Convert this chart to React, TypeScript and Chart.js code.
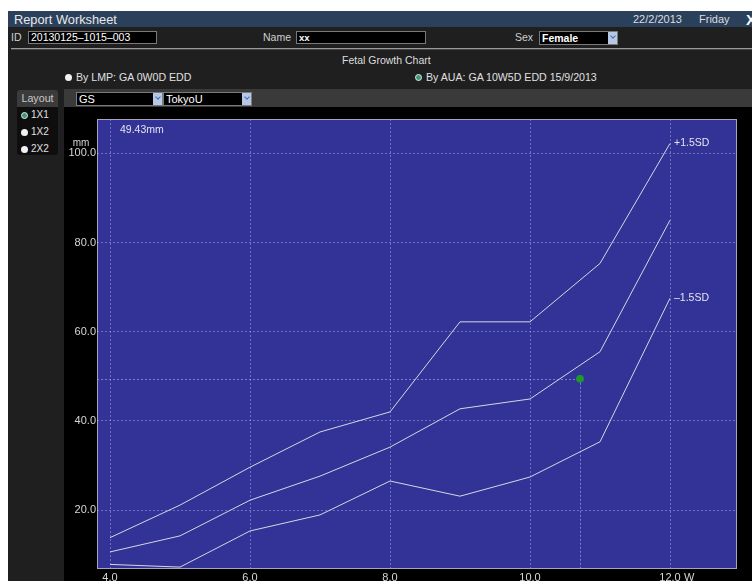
import React, { useEffect, useRef } from "react";
import { Chart, registerables } from "chart.js";

Chart.register(...registerables);

// ---- data ----
const weeks = [4, 5, 6, 7, 8, 9, 10, 11, 12];
const plusSD = [13.8, 21.1, 29.6, 37.5, 42.0, 62.2, 62.2, 75.3, 102.2];
const meanGS = [10.6, 14.2, 22.2, 27.6, 34.1, 42.7, 44.9, 55.5, 85.0];
const minusSD = [7.8, 7.2, 15.3, 18.9, 26.5, 23.1, 27.4, 35.3, 67.5];
const measuredGA = [10 + 5 / 7]; // 10W5D
const measuredGS = [49.43];
const xTickValues = [4, 6, 8, 10, 12];
const yTickValues = [20, 40, 60, 80, 100];
const xBounds = [3.814, 12.957];
const yBounds = [6.77, 107.69];
const seriesLabels = ["+1.5SD", "Mean", "\u20131.5SD"];

const FONT = "'Liberation Sans', Arial, Helvetica, sans-serif";

const toPts = (ys: number[]) => ys.map((y, i) => ({ x: weeks[i], y }));

const decorPlugin = {
  id: "decor",
  beforeDraw(chart: any) {
    const { ctx, chartArea: a } = chart;
    ctx.save();
    ctx.fillStyle = "#000";
    ctx.fillRect(0, 0, chart.width, chart.height);
    ctx.fillStyle = "#333397";
    ctx.fillRect(a.left, a.top, a.right - a.left, a.bottom - a.top);
    ctx.restore();
  },
  beforeDatasetsDraw(chart: any) {
    const { ctx, chartArea: a, scales } = chart;
    const px = scales.x.getPixelForValue(measuredGA[0]);
    const py = scales.y.getPixelForValue(measuredGS[0]);
    ctx.save();
    ctx.strokeStyle = "rgba(150,150,225,0.75)";
    ctx.lineWidth = 1;
    ctx.setLineDash([2, 2]);
    ctx.beginPath();
    ctx.moveTo(Math.round(px) + 0.5, py);
    ctx.lineTo(Math.round(px) + 0.5, a.bottom);
    ctx.moveTo(a.left, Math.round(py) + 0.5);
    ctx.lineTo(px, Math.round(py) + 0.5);
    ctx.stroke();
    ctx.restore();
  },
  afterDraw(chart: any) {
    const { ctx, chartArea: a, scales } = chart;
    ctx.save();
    ctx.strokeStyle = "#a4a4bc";
    ctx.lineWidth = 1;
    ctx.strokeRect(a.left + 0.5, a.top + 0.5, a.right - a.left - 1, a.bottom - a.top - 1);
    ctx.fillStyle = "#e4e4ee";
    ctx.textBaseline = "middle";
    ctx.textAlign = "left";
    ctx.font = `10.5px ${FONT}`;
    const xEnd = scales.x.getPixelForValue(weeks[weeks.length - 1]);
    ctx.fillText(seriesLabels[0], xEnd + 4, scales.y.getPixelForValue(plusSD[plusSD.length - 1]));
    ctx.fillText(seriesLabels[2], xEnd + 4, scales.y.getPixelForValue(minusSD[minusSD.length - 1]));
    ctx.font = `10.5px ${FONT}`;
    ctx.fillText(measuredGS[0].toFixed(2) + "mm", a.left + 23, a.top + 11);
    // axis unit labels
    ctx.fillStyle = "#d4d4d4";
    ctx.font = `10px ${FONT}`;
    ctx.textAlign = "center";
    ctx.fillText("mm", a.left - 16, scales.y.getPixelForValue(yTickValues[yTickValues.length - 1]) - 10);
    ctx.font = `11px ${FONT}`;
    ctx.textAlign = "left";
    ctx.textBaseline = "top";
    ctx.fillText("W", xEnd + 14, a.bottom + 3);
    ctx.restore();
  },
};

function ChartCanvas() {
  const ref = useRef<HTMLCanvasElement | null>(null);
  useEffect(() => {
    if (!ref.current) return;
    const lineStyle = {
      borderColor: "#d6d6e4",
      borderWidth: 1,
      pointRadius: 0,
      tension: 0,
      fill: false,
    };
    const chart = new Chart(ref.current, {
      type: "line",
      data: {
        datasets: [
          { label: seriesLabels[0], data: toPts(plusSD), ...lineStyle },
          { label: seriesLabels[1], data: toPts(meanGS), ...lineStyle },
          { label: seriesLabels[2], data: toPts(minusSD), ...lineStyle },
          {
            type: "scatter",
            label: "GS",
            data: [{ x: measuredGA[0], y: measuredGS[0] }],
            pointRadius: 3.5,
            pointBackgroundColor: "#1f9a2a",
            pointBorderColor: "#1f9a2a",
            showLine: false,
          } as any,
        ],
      },
      options: {
        animation: false,
        responsive: false,
        maintainAspectRatio: false,
        layout: { padding: { left: 0, top: 12, right: 15, bottom: 0 } },
        plugins: { legend: { display: false }, tooltip: { enabled: false } },
        scales: {
          x: {
            type: "linear",
            position: "bottom",
            min: xBounds[0],
            max: xBounds[1],
            afterBuildTicks: (s: any) => {
              s.ticks = xTickValues.map((v) => ({ value: v }));
            },
            afterFit: (s: any) => {
              s.height = 12;
            },
            ticks: {
              color: "#d6d6d6",
              font: { size: 11, family: FONT },
              padding: 2,
              maxRotation: 0,
              autoSkip: false,
              callback: (v: any) => Number(v).toFixed(1),
            },
            grid: { color: "rgba(160,160,230,0.55)", drawTicks: false, lineWidth: 1 },
            border: { display: false, dash: [2, 2] },
          },
          y: {
            type: "linear",
            position: "left",
            min: yBounds[0],
            max: yBounds[1],
            afterBuildTicks: (s: any) => {
              s.ticks = yTickValues.map((v) => ({ value: v }));
            },
            afterFit: (s: any) => {
              s.width = 33;
            },
            ticks: {
              color: "#d6d6d6",
              font: { size: 11, family: FONT },
              padding: 1,
              autoSkip: false,
              callback: (v: any) => Number(v).toFixed(1),
            },
            grid: { color: "rgba(160,160,230,0.55)", drawTicks: false, lineWidth: 1 },
            border: { display: false, dash: [2, 2] },
          },
        },
      },
      plugins: [decorPlugin],
    } as any);
    return () => chart.destroy();
  }, []);
  return (
    <canvas
      ref={ref}
      width={688}
      height={474}
      style={{ position: "absolute", left: 64, top: 107, width: 688, height: 474, display: "block" }}
    />
  );
}

const abs = (left: number, top: number, extra: any = {}) => ({ position: "absolute" as const, left, top, ...extra });

function T({ x, y, h, size, color = "#dcdcdc", bold = false, children }: any) {
  return (
    <div
      style={abs(x, y, {
        height: h,
        lineHeight: `${h}px`,
        fontSize: size,
        color,
        fontWeight: bold ? "bold" : "normal",
        whiteSpace: "nowrap",
      })}
    >
      {children}
    </div>
  );
}

function Box({ x, y, w, h, text, size = 10.5, bold = false, arrow = false }: any) {
  return (
    <div
      style={abs(x, y, {
        width: w,
        height: h,
        boxSizing: "border-box",
        border: "1px solid #7a7a7a",
        background: "#000",
        overflow: "hidden",
      })}
    >
      <div
        style={{
          position: "absolute",
          left: 2,
          top: 0,
          lineHeight: `${h - 2}px`,
          fontSize: size,
          color: "#fff",
          fontWeight: bold ? "bold" : "normal",
          whiteSpace: "nowrap",
        }}
      >
        {text}
      </div>
      {arrow && (
        <div
          style={{
            position: "absolute",
            right: 0,
            top: 0,
            width: 9,
            height: h - 2,
            background: "#b7c8e6",
          }}
        >
          <div
            style={{
              position: "absolute",
              left: 2.5,
              top: 2,
              width: 3,
              height: 3,
              borderRight: "1.5px solid #4a6cb0",
              borderBottom: "1.5px solid #4a6cb0",
              transform: "rotate(45deg)",
            }}
          />
        </div>
      )}
    </div>
  );
}

function Radio({ cx, cy, selected }: any) {
  return (
    <div
      style={abs(cx - 3.5, cy - 3.5, {
        width: 7,
        height: 7,
        borderRadius: "50%",
        background: selected ? "#3f9a7a" : "#f2f2f2",
        boxSizing: "border-box",
        border: selected ? "1.5px solid #dfe8e4" : "none",
      })}
    />
  );
}

export default function App() {
  return (
    <div
      style={{
        position: "fixed",
        left: 0,
        top: 0,
        width: 752,
        height: 581,
        background: "#fff",
        overflow: "hidden",
        fontFamily: FONT,
      }}
    >
      <div style={abs(8, 11, { width: 744, height: 570, background: "#1f1f1f" })} />
      {/* title bar */}
      <div style={abs(8, 11, { width: 744, height: 16, background: "#2b405a" })} />
      <T x={14} y={11} h={17} size={12.8} color="#e8e8e8">Report Worksheet</T>
      <T x={633} y={11} h={17} size={11} color="#dddddd">22/2/2013</T>
      <T x={699} y={11} h={17} size={11} color="#dddddd">Friday</T>
      <T x={746} y={11} h={17} size={15} color="#ffffff" bold>X</T>
      {/* info row */}
      <T x={11} y={29} h={16} size={10.5} color="#d0d0d0">ID</T>
      <Box x={28} y={31} w={129} h={13} text={"20130125\u20131015\u2013003"} size={10.5} />
      <T x={263} y={29} h={16} size={10.5} color="#d0d0d0">Name</T>
      <Box x={296} y={31} w={130} h={13} text="xx" size={9.5} bold />
      <T x={515} y={29} h={16} size={10.5} color="#d0d0d0">Sex</T>
      <Box x={539} y={31} w={79} h={14} text="Female" size={10.5} bold arrow />
      <div style={abs(11, 48, { width: 741, height: 1, background: "#9a9a9a" })} />
      <div style={abs(11, 49, { width: 741, height: 1, background: "#444" })} />
      {/* chart title + GA rows */}
      <T x={342} y={53} h={14} size={10.5} color="#dddddd">Fetal Growth Chart</T>
      <Radio cx={68} cy={77} />
      <T x={76} y={70} h={14} size={10.6} color="#e0e0e0">By LMP: GA 0W0D EDD</T>
      <Radio cx={418} cy={77} selected />
      <T x={426} y={70} h={14} size={10.6} color="#e0e0e0">By AUA: GA 10W5D EDD 15/9/2013</T>
      {/* layout panel */}
      <div
        style={abs(17, 90, {
          width: 41,
          height: 17,
          background: "#3b3b3b",
          borderRadius: "3px 3px 0 0",
          color: "#c8c8c8",
          fontSize: 10.7,
          lineHeight: "17px",
          textAlign: "center",
        })}
      >
        Layout
      </div>
      <div style={abs(17, 107, { width: 41, height: 48, background: "#0e0e0e", borderRadius: "0 0 3px 3px" })} />
      <Radio cx={24} cy={115} selected />
      <T x={31} y={108} h={14} size={10} color="#e0e0e0">1X1</T>
      <Radio cx={24} cy={132} />
      <T x={31} y={125} h={14} size={10} color="#e0e0e0">1X2</T>
      <Radio cx={24} cy={149} />
      <T x={31} y={142} h={14} size={10} color="#e0e0e0">2X2</T>
      {/* selector bar */}
      <div style={abs(64, 89, { width: 688, height: 18, background: "#3a3a3a" })} />
      <Box x={76} y={92} w={87} h={14} text="GS" size={11} arrow />
      <Box x={163} y={92} w={89} h={14} text="TokyoU" size={11} arrow />
      <ChartCanvas />
    </div>
  );
}
